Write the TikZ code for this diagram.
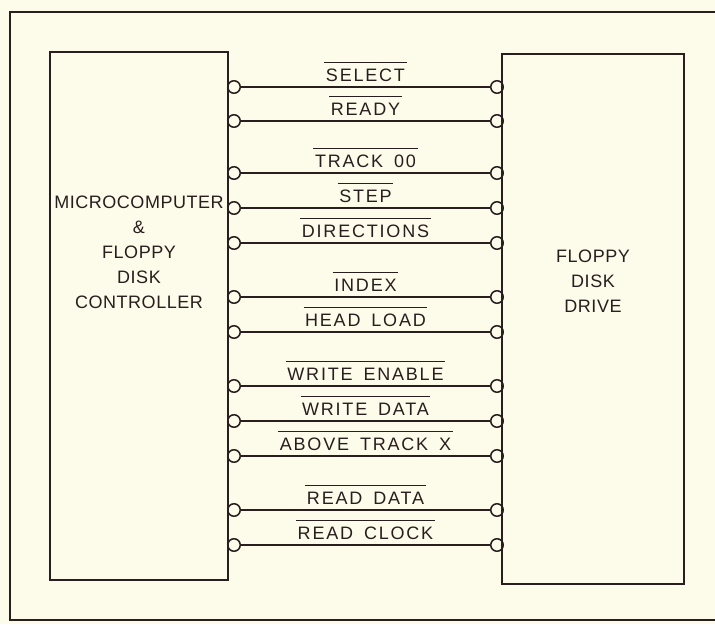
\documentclass[tikz,border=0pt]{standalone}
\usepackage{fontspec}
\setmainfont{Liberation Sans}
\newfontfamily\sigfont[LetterSpace=10, WordSpace=1.6]{Liberation Sans}
\newfontfamily\boxfont[LetterSpace=3]{Liberation Sans}
\definecolor{paper}{RGB}{253,252,234}
\definecolor{ink}{RGB}{40,30,30}

\begin{document}
\begin{tikzpicture}[
        x=1pt, y=-1pt,
        color=ink,
        unit/.style={draw, rectangle, line width=1.8pt, inner sep=0pt},
        pin/.style={draw, circle, line width=1.5pt, minimum size=12.5pt, inner sep=0pt},
        wire/.style={line width=1.1pt},
        sig/.style={font=\fontsize{18}{20}\sigfont, inner xsep=1pt, inner ysep=5pt, text height=13pt, text depth=0pt},
        boxtext/.style={align=center, font=\fontsize{18}{25}\boxfont}
    ]
    \useasboundingbox[fill=paper] (0,0) rectangle (715,624);
    \draw[line width=1.3pt] (715,12) -- (10,12) -- (10,620) -- (715,620);

    \node[unit, minimum width=178pt, minimum height=528pt] (mc) at (139,316) {};
    \node[boxtext] (mctxt) at (139,252) {MICROCOMPUTER\\\&\\FLOPPY\\DISK\\CONTROLLER};

    \node[unit, minimum width=182pt, minimum height=530pt] (fdd) at (593,319) {};
    \node[boxtext] (fddtxt) at (593,281) {FLOPPY\\DISK\\DRIVE};

    % signal lines between the two units
    \foreach \y/\name [count=\i] in {87/SELECT, 121/READY, 173/TRACK 00, 208/STEP,
            243/DIRECTIONS, 297/INDEX, 332/HEAD LOAD, 386/WRITE ENABLE,
            421/WRITE DATA, 456/ABOVE TRACK X, 510/READ DATA, 545/READ CLOCK} {
        \node[pin] (l\i) at (234,\y) {};
        \node[pin] (r\i) at (497,\y) {};
        \draw[wire] (l\i) -- (r\i) node[sig, midway, above=0pt] (s\i) {\name};
        \draw[wire] (s\i.north west) -- (s\i.north east);
    }
\end{tikzpicture}
\end{document}
